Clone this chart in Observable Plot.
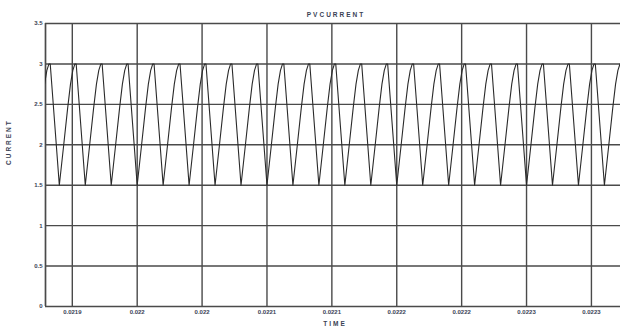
<!DOCTYPE html>
<html><head><meta charset="utf-8">
<script src="https://cdn.jsdelivr.net/npm/d3@7"></script>
<script src="https://cdn.jsdelivr.net/npm/@observablehq/plot@0.6"></script>
<style>body{margin:0;background:#fff}</style>
</head><body><div id="chart"></div>
<script>
const title = "PVCURRENT";
const xLabel = "TIME";
const yLabel = "CURRENT";
// time in microseconds
const xTicks = [21900, 21950, 22000, 22050, 22100, 22150, 22200, 22250, 22300];
const xTickLabels = ["0.0219","0.022","0.022","0.0221","0.0221","0.0222","0.0222","0.0223","0.0223"];
const yTicks = [0, 0.5, 1, 1.5, 2, 2.5, 3, 3.5];
const yTickLabels = ["0","0.5","1","1.5","2","2.5","3","3.5"];
const xDomain = [21879.35, 22322.4];

const timeUs = [
  21878.6, 21880.4, 21882, 21883,
  21890, 21893.4, 21896.4, 21898.6, 21900.4, 21902, 21903,
  21910, 21913.4, 21916.4, 21918.6, 21920.4, 21922, 21923,
  21930, 21933.4, 21936.4, 21938.6, 21940.4, 21942, 21943,
  21950, 21953.4, 21956.4, 21958.6, 21960.4, 21962, 21963,
  21970, 21973.4, 21976.4, 21978.6, 21980.4, 21982, 21983,
  21990, 21993.4, 21996.4, 21998.6, 22000.4, 22002, 22003,
  22010, 22013.4, 22016.4, 22018.6, 22020.4, 22022, 22023,
  22030, 22033.4, 22036.4, 22038.6, 22040.4, 22042, 22043,
  22050, 22053.4, 22056.4, 22058.6, 22060.4, 22062, 22063,
  22070, 22073.4, 22076.4, 22078.6, 22080.4, 22082, 22083,
  22090, 22093.4, 22096.4, 22098.6, 22100.4, 22102, 22103,
  22110, 22113.4, 22116.4, 22118.6, 22120.4, 22122, 22123,
  22130, 22133.4, 22136.4, 22138.6, 22140.4, 22142, 22143,
  22150, 22153.4, 22156.4, 22158.6, 22160.4, 22162, 22163,
  22170, 22173.4, 22176.4, 22178.6, 22180.4, 22182, 22183,
  22190, 22193.4, 22196.4, 22198.6, 22200.4, 22202, 22203,
  22210, 22213.4, 22216.4, 22218.6, 22220.4, 22222, 22223,
  22230, 22233.4, 22236.4, 22238.6, 22240.4, 22242, 22243,
  22250, 22253.4, 22256.4, 22258.6, 22260.4, 22262, 22263,
  22270, 22273.4, 22276.4, 22278.6, 22280.4, 22282, 22283,
  22290, 22293.4, 22296.4, 22298.6, 22300.4, 22302, 22303,
  22310, 22313.4, 22316.4, 22318.6, 22320.4, 22322, 22323
];
const current = [
  2.75, 2.92, 3, 3,
  1.5, 2, 2.45, 2.75, 2.92, 3, 3,
  1.5, 2, 2.45, 2.75, 2.92, 3, 3,
  1.5, 2, 2.45, 2.75, 2.92, 3, 3,
  1.5, 2, 2.45, 2.75, 2.92, 3, 3,
  1.5, 2, 2.45, 2.75, 2.92, 3, 3,
  1.5, 2, 2.45, 2.75, 2.92, 3, 3,
  1.5, 2, 2.45, 2.75, 2.92, 3, 3,
  1.5, 2, 2.45, 2.75, 2.92, 3, 3,
  1.5, 2, 2.45, 2.75, 2.92, 3, 3,
  1.5, 2, 2.45, 2.75, 2.92, 3, 3,
  1.5, 2, 2.45, 2.75, 2.92, 3, 3,
  1.5, 2, 2.45, 2.75, 2.92, 3, 3,
  1.5, 2, 2.45, 2.75, 2.92, 3, 3,
  1.5, 2, 2.45, 2.75, 2.92, 3, 3,
  1.5, 2, 2.45, 2.75, 2.92, 3, 3,
  1.5, 2, 2.45, 2.75, 2.92, 3, 3,
  1.5, 2, 2.45, 2.75, 2.92, 3, 3,
  1.5, 2, 2.45, 2.75, 2.92, 3, 3,
  1.5, 2, 2.45, 2.75, 2.92, 3, 3,
  1.5, 2, 2.45, 2.75, 2.92, 3, 3,
  1.5, 2, 2.45, 2.75, 2.92, 3, 3,
  1.5, 2, 2.45, 2.75, 2.92, 3, 3
];

const series = timeUs.map((t, i) => ({t, v: current[i]}));
const gridColor = "#4a4a4a";
const textColor = "#3a3f55";

const chart = Plot.plot({
  width: 620,
  height: 333,
  marginLeft: 45,
  marginRight: 0,
  marginTop: 23,
  marginBottom: 27,
  style: {fontFamily: "Liberation Sans, Arial, sans-serif", fontSize: "6px", background: "#fff"},
  x: {domain: xDomain, axis: null},
  y: {domain: [0, 3.5], axis: null},
  marks: [
    Plot.ruleY(yTicks, {stroke: gridColor, strokeWidth: 1.4}),
    Plot.ruleX(xTicks, {stroke: gridColor, strokeWidth: 1.4}),
    Plot.ruleX([xDomain[0]], {stroke: gridColor, strokeWidth: 1.7}),
    Plot.line(series, {x: "t", y: "v", stroke: "#2a2a2a", strokeWidth: 1.1, clip: true}),
    Plot.text(xTicks, {x: d => d, text: (d, i) => xTickLabels[i], frameAnchor: "bottom", dy: 7, fill: textColor, fontWeight: "bold", fontSize: 6}),
    Plot.text(yTicks, {y: d => d, text: (d, i) => yTickLabels[i], frameAnchor: "left", textAnchor: "end", dx: -3, fill: textColor, fontWeight: "bold", fontSize: 6}),
    Plot.text([xLabel], {frameAnchor: "bottom", dy: 19, dx: 2, text: d => d, fill: textColor, fontWeight: "bold", fontSize: 6.5}),
    Plot.text([yLabel], {frameAnchor: "left", dx: -37, rotate: -90, text: d => d, fill: textColor, fontWeight: "bold", fontSize: 6.5}),
    Plot.text([title], {frameAnchor: "top", dy: -11, dx: 3, text: d => d, fill: textColor, fontWeight: "bold", fontSize: 6.5})
  ]
});
chart.querySelectorAll("text").forEach(el => {
  if ([title, xLabel, yLabel].includes(el.textContent)) el.style.letterSpacing = "2px";
});
document.getElementById("chart").appendChild(chart);
</script>
</body></html>
